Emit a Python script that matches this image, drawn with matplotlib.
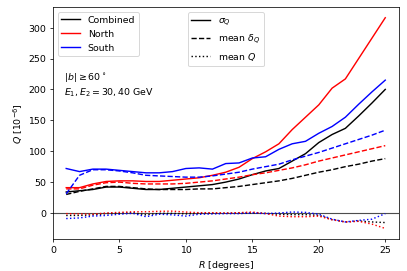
import numpy as np
import matplotlib
matplotlib.use("Agg")
import matplotlib.pyplot as plt
from matplotlib.lines import Line2D

# radius in degrees
R = np.arange(1, 26)

# sigma_Q (solid)
sig_comb = [34, 36, 38, 42, 42, 40, 38, 38, 40, 42, 44, 46, 50, 55, 62, 68, 72, 84, 96, 114, 127, 137, 157, 178, 200]
sig_north = [41, 41, 47, 51, 52, 52, 51, 51, 53, 55, 57, 61, 66, 74, 88, 99, 112, 135, 155, 175, 202, 217, 250, 283, 316]
sig_south = [72, 67, 71, 71, 69, 67, 65, 65, 67, 72, 73, 71, 80, 81, 89, 91, 103, 112, 116, 129, 140, 155, 176, 196, 215]

# mean delta_Q (dashed)
dq_comb = [30, 35, 39, 43, 43, 41, 39, 38, 38, 38, 39, 39, 41, 43, 46, 49, 52, 56, 61, 66, 70, 75, 79, 84, 88]
dq_north = [39, 39, 45, 49, 50, 48, 47, 47, 47, 48, 50, 52, 55, 58, 62, 65, 69, 73, 78, 84, 89, 94, 99, 104, 109]
dq_south = [31, 61, 70, 70, 68, 65, 61, 60, 59, 58, 58, 60, 63, 66, 71, 75, 79, 86, 92, 98, 105, 112, 119, 126, 134]

# mean Q (dotted)
q_comb = [-4, -4, -3, -1, -0.5, 0.5, -3, -0.5, -0.5, -1.5, -0.5, -0.5, -0.5, 0, 0, -0.5, -2, -2.7, -2.7, -3.7, -10.7, -14.5, -13, -14.5, -15.5]
q_north = [-1, -1.5, -2, 0, 1, 2, 2, 2.7, 3, 1.5, 0.5, 0.5, 0, 0.5, 1.6, -1, -5, -6, -6, -5, -11, -14.5, -13.5, -18, -25]
q_south = [-9, -8, -5, -4, -2, -0.5, -6, -2, -3, -5, -2, -1.5, -1, -1, 0, -1, 0, 1.6, 1, -2, -10, -14.5, -12, -10, -1]

names = ["Combined", "North", "South"]
colors = ["k", "r", "b"]

fig, ax = plt.subplots(figsize=(6, 4), dpi=67.85)
fig.subplots_adjust(left=0.13, right=0.979, bottom=0.118, top=0.972)

ax.axhline(0, color="0.3", lw=1.2, zorder=1)

sig = [sig_comb, sig_north, sig_south]
dq = [dq_comb, dq_north, dq_south]
q = [q_comb, q_north, q_south]
for i in range(3):
    ax.plot(R, sig[i], color=colors[i], ls="-", label=names[i])
    ax.plot(R, dq[i], color=colors[i], ls="--")
    ax.plot(R, q[i], color=colors[i], ls=":")

ax.set_xlim(0, 26)
ax.set_xticks([0, 5, 10, 15, 20, 25])
ax.set_yticks([0, 50, 100, 150, 200, 250, 300])
ax.set_xlabel("$R$ [degrees]")
ax.set_ylabel("$Q$ [$10^{-6}$]")

leg1 = ax.legend(loc="upper left")
ax.add_artist(leg1)
h2 = [Line2D([], [], color="k", ls="-"),
      Line2D([], [], color="k", ls="--"),
      Line2D([], [], color="k", ls=":")]
ax.legend(h2, [r"$\sigma_Q$", r"mean $\delta_Q$", r"mean $Q$"], loc="upper center")

ax.text(0.8, 230, "$|b| \\geq 60^\\circ$\n$E_1, E_2 = 30, 40$ GeV", va="top", ha="left")

fig.savefig("out.png")
